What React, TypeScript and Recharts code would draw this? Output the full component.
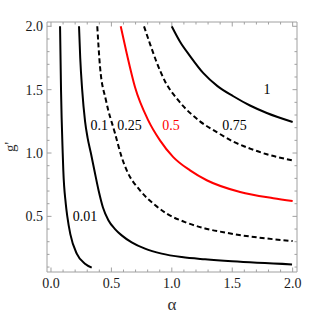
import { LineChart, Line, XAxis, YAxis, ReferenceDot } from "recharts";

// frame ticks (Mathematica style: inward, minor every 0.1)
const xTicks = [0, 0.1, 0.2, 0.3, 0.4, 0.5, 0.6, 0.7, 0.8, 0.9, 1, 1.1, 1.2, 1.3, 1.4, 1.5, 1.6, 1.7, 1.8, 1.9, 2];
const yTicks = [0.1, 0.2, 0.3, 0.4, 0.5, 0.6, 0.7, 0.8, 0.9, 1, 1.1, 1.2, 1.3, 1.4, 1.5, 1.6, 1.7, 1.8, 1.9, 2];

// contour levels
const alpha001 = [0.075, 0.083, 0.097, 0.102, 0.122, 0.135, 0.16, 0.213, 0.281, 0.337];
const g001 = [2.0, 1.5, 1.0, 0.863, 0.603, 0.5, 0.36, 0.206, 0.127, 0.096];

const alpha01 = [0.232, 0.242, 0.258, 0.282, 0.303, 0.33, 0.362, 0.395, 0.43, 0.475, 0.53, 0.585, 0.668, 0.778, 0.916, 1.082, 1.275, 1.498, 1.995];
const g01 = [2.0, 1.75, 1.5, 1.25, 1.12, 1.0, 0.85, 0.7, 0.57, 0.47, 0.4, 0.35, 0.295, 0.245, 0.206, 0.179, 0.161, 0.145, 0.121];

const alpha025 = [0.383, 0.406, 0.455, 0.53, 0.585, 0.627, 0.737, 0.861, 0.96, 1.109, 1.275, 1.454, 2.0];
const g025 = [2.0, 1.679, 1.416, 1.155, 0.968, 0.863, 0.705, 0.59, 0.52, 0.455, 0.405, 0.37, 0.305];

const alpha05 = [0.577, 0.627, 0.695, 0.805, 0.902, 1.012, 1.151, 1.289, 1.565, 1.84, 2.0];
const g05 = [2.0, 1.785, 1.521, 1.258, 1.1, 0.968, 0.863, 0.785, 0.692, 0.643, 0.621];

const alpha075 = [0.77, 0.82, 0.875, 0.944, 1.054, 1.233, 1.372, 1.509, 1.647, 1.786, 2.0];
const g075 = [2.0, 1.86, 1.715, 1.565, 1.415, 1.25, 1.165, 1.09, 1.035, 0.99, 0.942];

const alpha1 = [0.999, 1.068, 1.151, 1.261, 1.378, 1.509, 1.647, 1.786, 2.0];
const g1 = [2.0, 1.878, 1.765, 1.63, 1.528, 1.448, 1.375, 1.316, 1.245];

const levelNames = ["0.01", "0.1", "0.25", "0.5", "0.75", "1"];
const labelAlpha = [0.281, 0.4, 0.65, 0.993, 1.519, 1.788];
const labelG = [0.5, 1.219, 1.219, 1.219, 1.219, 1.503];

const toPoints = (a: number[], g: number[]) => a.map((x, i) => ({ a: x, g: g[i] }));

const curves = [
    { name: "0.01", data: toPoints(alpha001, g001), color: "#000", dashed: false },
    { name: "0.1", data: toPoints(alpha01, g01), color: "#000", dashed: false },
    { name: "0.25", data: toPoints(alpha025, g025), color: "#000", dashed: true },
    { name: "0.5", data: toPoints(alpha05, g05), color: "#ff0000", dashed: false },
    { name: "0.75", data: toPoints(alpha075, g075), color: "#000", dashed: true },
    { name: "1", data: toPoints(alpha1, g1), color: "#000", dashed: false },
];

const frameColor = "#a0a0a0";
const font = "Liberation Serif";
const textColor = "#1a1a1a";

const isMajor = (v: number) => Math.abs(v * 2 - Math.round(v * 2)) < 1e-6;
const tickLen = (v: number) => (isMajor(v) ? 4.5 : 2.5);

const BottomTick = (p: any) => {
    const v = p.payload.value;
    return (
        <g>
            <line x1={p.x} x2={p.x} y1={p.y} y2={p.y - tickLen(v)} stroke={frameColor} />
            {isMajor(v) && (
                <text x={p.x} y={p.y + 16} textAnchor="middle" fontSize={14} style={{ fontFamily: font }} fill={textColor}>
                    {v.toFixed(1)}
                </text>
            )}
        </g>
    );
};

const TopTick = (p: any) => (
    <line x1={p.x} x2={p.x} y1={p.y} y2={p.y + tickLen(p.payload.value)} stroke={frameColor} />
);

const LeftTick = (p: any) => {
    const v = p.payload.value;
    return (
        <g>
            <line x1={p.x} x2={p.x + tickLen(v)} y1={p.y} y2={p.y} stroke={frameColor} />
            {isMajor(v) && (
                <text x={p.x - 4} y={p.y} dy="0.35em" textAnchor="end" fontSize={14} style={{ fontFamily: font }} fill={textColor}>
                    {v.toFixed(1)}
                </text>
            )}
        </g>
    );
};

const RightTick = (p: any) => (
    <line x1={p.x} x2={p.x - tickLen(p.payload.value)} y1={p.y} y2={p.y} stroke={frameColor} />
);

const XLabel = (p: any) => {
    const vb = p.viewBox;
    return (
        <text x={vb.x + vb.width / 2} y={vb.y + vb.height - 5} textAnchor="middle" fontSize={17} style={{ fontFamily: font }} fill="#333">
            α
        </text>
    );
};

const YLabel = (p: any) => {
    const vb = p.viewBox;
    const cy = vb.y + vb.height / 2;
    return (
        <text transform={`translate(15, ${cy}) rotate(-90)`} textAnchor="middle" fontSize={15} style={{ fontFamily: font }} fill="#333">
            g'
        </text>
    );
};

export default function App() {
    return (
        <div style={{ position: "fixed", left: 0, top: 0, background: "#fff" }}>
            <LineChart width={319} height={315} margin={{ top: 0, right: 0, bottom: 0, left: 0 }}>
                <XAxis
                    xAxisId="bottom"
                    orientation="bottom"
                    type="number"
                    dataKey="a"
                    domain={[-0.033, 2.036]}
                    allowDataOverflow
                    ticks={xTicks}
                    interval={0}
                    tickSize={0}
                    tickMargin={0}
                    tickLine={false}
                    tick={BottomTick}
                    axisLine={{ stroke: frameColor }}
                    height={43}
                    label={{ content: XLabel }}
                />
                <XAxis
                    xAxisId="top"
                    orientation="top"
                    type="number"
                    dataKey="a"
                    domain={[-0.033, 2.036]}
                    allowDataOverflow
                    ticks={xTicks}
                    interval={0}
                    tickSize={0}
                    tickMargin={0}
                    tickLine={false}
                    tick={TopTick}
                    axisLine={{ stroke: frameColor }}
                    height={22}
                />
                <YAxis
                    yAxisId="left"
                    orientation="left"
                    type="number"
                    domain={[0.061, 2.034]}
                    allowDataOverflow
                    ticks={yTicks}
                    interval={0}
                    tickSize={0}
                    tickMargin={0}
                    tickLine={false}
                    tick={LeftTick}
                    axisLine={{ stroke: frameColor }}
                    width={47}
                    label={{ content: YLabel }}
                />
                <YAxis
                    yAxisId="right"
                    orientation="right"
                    type="number"
                    domain={[0.061, 2.034]}
                    allowDataOverflow
                    ticks={yTicks}
                    interval={0}
                    tickSize={0}
                    tickMargin={0}
                    tickLine={false}
                    tick={RightTick}
                    axisLine={{ stroke: frameColor }}
                    width={22}
                />
                {curves.map(c => (
                    <Line
                        key={c.name}
                        xAxisId="bottom"
                        yAxisId="left"
                        data={c.data}
                        dataKey="g"
                        type="monotone"
                        stroke={c.color}
                        strokeWidth={2}
                        strokeDasharray={c.dashed ? "5 3" : undefined}
                        dot={false}
                        activeDot={false}
                        isAnimationActive={false}
                    />
                ))}
                {levelNames.map((name, i) => (
                    <ReferenceDot
                        key={name}
                        xAxisId="bottom"
                        yAxisId="left"
                        x={labelAlpha[i]}
                        y={labelG[i]}
                        r={0}
                        fill="none"
                        stroke="none"
                        label={{
                            value: name,
                            position: "center",
                            fontSize: 14,
                            style: { fontFamily: font },
                            fill: name === "0.5" ? "#ff0000" : "#000",
                        }}
                    />
                ))}
            </LineChart>
        </div>
    );
}
